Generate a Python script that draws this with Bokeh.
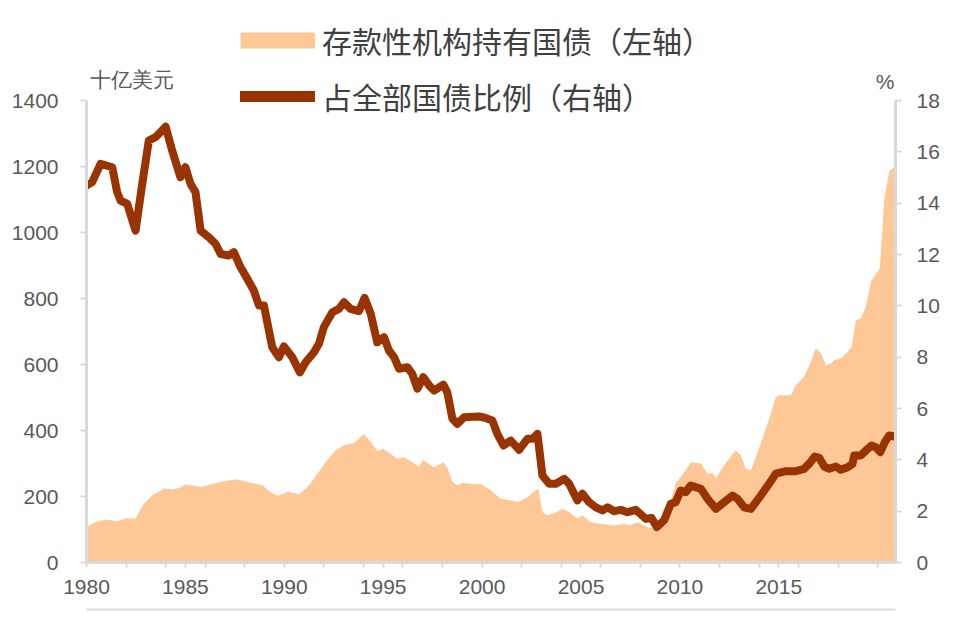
import numpy as np
from bokeh.plotting import figure
from bokeh.models import (Range1d, LinearAxis, FixedTicker, Legend, LegendItem,
                          ColumnDataSource, Label)
from bokeh.embed import file_html
from bokeh.resources import INLINE

# ---- data ----
area_year = [1980.0, 1980.46, 1980.96, 1981.55, 1981.97, 1982.48, 1982.9, 1983.32, 1983.91,
             1984.33, 1984.67, 1985.0, 1985.51, 1985.77, 1986.1, 1986.78, 1987.54, 1988.13,
             1988.89, 1989.31, 1989.65, 1989.98, 1990.23, 1990.74, 1991.25, 1991.67, 1992.09,
             1992.6, 1993.02, 1993.53, 1994.03, 1994.37, 1994.7, 1995.0, 1995.38, 1995.71,
             1996.08, 1996.47, 1996.8, 1997.03, 1997.57, 1998.04, 1998.24, 1998.5, 1998.75,
             1999.0, 1999.59, 1999.93, 2000.43, 2000.94, 2001.45, 2001.87, 2002.29, 2002.71,
             2002.85, 2003.05, 2003.3, 2003.8, 2004.06, 2004.4, 2004.82, 2005.07, 2005.49,
             2006.17, 2006.68, 2007.18, 2007.44, 2007.86, 2008.36, 2008.75, 2009.2, 2009.5,
             2009.8, 2010.04, 2010.3, 2010.55, 2011.06, 2011.4, 2011.65, 2011.82, 2012.16,
             2012.5, 2012.83, 2013.08, 2013.33, 2013.59, 2013.84, 2014.26, 2014.6, 2014.85,
             2015.1, 2015.61, 2015.86, 2016.28, 2016.62, 2016.87, 2017.13, 2017.38, 2017.63,
             2017.8, 2018.14, 2018.48, 2018.68, 2018.9, 2019.15, 2019.4, 2019.66, 2019.91,
             2020.11, 2020.33, 2020.58, 2020.85]
area_value = [107, 122, 130, 125, 133, 133, 178, 203, 224,
              221, 226, 236, 232, 229, 234, 244, 252, 244,
              234, 213, 203, 209, 215, 206, 234, 269, 304,
              340, 355, 362, 389, 365, 338, 345, 328, 315,
              318, 304, 291, 310, 289, 303, 289, 244, 234,
              241, 237, 238, 219, 193, 188, 183, 198, 219,
              222, 153, 143, 153, 163, 153, 133, 143, 122,
              115, 112, 117, 112, 122, 107, 103, 128, 180,
              240, 259, 280, 304, 300, 269, 271, 254, 289,
              315, 340, 325, 284, 279, 320, 391, 451, 502,
              507, 507, 537, 563, 608, 649, 634, 598, 603,
              613, 618, 638, 654, 735, 740, 775, 851, 876,
              892, 1099, 1185, 1199]

line_year = [1980.0, 1980.29, 1980.71, 1981.3, 1981.55, 1981.72, 1982.06, 1982.48, 1982.82,
             1983.15, 1983.49, 1984.0, 1984.33, 1984.75, 1985.0, 1985.26, 1985.51, 1985.77,
             1986.19, 1986.53, 1986.78, 1987.2, 1987.45, 1987.79, 1988.13, 1988.46, 1988.72,
             1988.97, 1989.39, 1989.73, 1989.98, 1990.4, 1990.79, 1991.08, 1991.5, 1991.75,
             1992.0, 1992.43, 1992.76, 1993.02, 1993.35, 1993.77, 1994.06, 1994.37, 1994.7,
             1995.04, 1995.29, 1995.55, 1995.8, 1996.22, 1996.47, 1996.73, 1997.03, 1997.32,
             1997.57, 1998.04, 1998.24, 1998.5, 1998.75, 1999.09, 1999.84, 2000.1, 2000.52,
             2000.77, 2001.08, 2001.45, 2001.87, 2002.29, 2002.55, 2002.8, 2003.05, 2003.39,
             2003.73, 2004.15, 2004.4, 2004.82, 2005.07, 2005.41, 2005.75, 2006.09, 2006.34,
             2006.68, 2007.01, 2007.35, 2007.77, 2008.28, 2008.56, 2008.83, 2009.2, 2009.54,
             2009.79, 2010.04, 2010.3, 2010.55, 2011.06, 2011.4, 2011.82, 2012.24, 2012.66,
             2012.91, 2013.25, 2013.59, 2014.09, 2014.51, 2014.85, 2015.36, 2015.86, 2016.28,
             2016.54, 2016.82, 2017.04, 2017.3, 2017.55, 2017.89, 2018.14, 2018.48, 2018.73,
             2018.81, 2019.15, 2019.4, 2019.69, 2019.9, 2020.13, 2020.36, 2020.58, 2020.83]
line_value = [14.69, 14.82, 15.53, 15.40, 14.43, 14.1, 13.97, 12.93, 14.76,
              16.44, 16.57, 16.98, 16.05, 15.01, 15.40, 14.75, 14.43, 12.93,
              12.67, 12.41, 12.02, 11.96, 12.09, 11.5, 11.05, 10.6, 10.01,
              10.01, 8.39, 8.0, 8.42, 8.0, 7.41, 7.8, 8.19, 8.52,
              9.17, 9.75, 9.88, 10.14, 9.88, 9.79, 10.31, 9.69, 8.58,
              8.78, 8.26, 8.0, 7.55, 7.61, 7.35, 6.77, 7.22, 6.9,
              6.7, 6.93, 6.63, 5.6, 5.4, 5.66, 5.69, 5.65, 5.53,
              5.01, 4.56, 4.75, 4.39, 4.82, 4.82, 5.01, 3.39, 3.07,
              3.07, 3.26, 3.07, 2.42, 2.68, 2.35, 2.15, 2.03, 2.15,
              2.0, 2.05, 1.96, 2.05, 1.7, 1.74, 1.38, 1.64, 2.29,
              2.35, 2.8, 2.74, 3.0, 2.87, 2.48, 2.09, 2.35, 2.61,
              2.48, 2.15, 2.09, 2.61, 3.07, 3.46, 3.56, 3.56, 3.65,
              3.85, 4.13, 4.08, 3.74, 3.65, 3.74, 3.61, 3.71, 3.85,
              4.17, 4.17, 4.36, 4.56, 4.49, 4.3, 4.69, 4.95, 4.91]

left_ticks = [0, 200, 400, 600, 800, 1000, 1200, 1400]
right_ticks = [0, 2, 4, 6, 8, 10, 12, 14, 16, 18]
x_ticks = sorted(set(range(1980, 2021, 2)) | set(range(1980, 2021, 5)))
x_labels = {t: (str(t) if (t % 5 == 0 and t < 2020) else "") for t in x_ticks}

area_name = "存款性机构持有国债（左轴）"
line_name = "占全部国债比例（右轴）"
left_unit = "十亿美元"
right_unit = "%"

AREA_COLOR = "#FDC796"
LINE_COLOR = "#993300"
AXIS_GREY = "#D9D9D9"
TEXT_GREY = "#595959"

# ---- layout (pixels) ----
W, H = 957, 626
FRAME_TOP = 0           # frame reaches the top so legend and captions are not clipped
AXIS_TOP = 100          # where the 1400 / 18 ticks sit
FRAME_BOTTOM = 562
BORDER_LEFT, BORDER_RIGHT = 86, 62
FRAME_W = W - BORDER_LEFT - BORDER_RIGHT
scale_up = (FRAME_BOTTOM - FRAME_TOP) / (FRAME_BOTTOM - AXIS_TOP)
left_max, right_max = 1400, 18

p = figure(width=W, height=H, output_backend="svg", toolbar_location=None,
           x_range=Range1d(1980, 2020.9), y_range=Range1d(0, left_max * scale_up),
           min_border_left=BORDER_LEFT, min_border_right=BORDER_RIGHT,
           min_border_top=FRAME_TOP, min_border_bottom=H - FRAME_BOTTOM)
p.title.visible = False
p.outline_line_color = None
p.grid.visible = False

p.extra_y_ranges = {"right": Range1d(0, right_max * scale_up)}

src_a = ColumnDataSource(dict(x=area_year, y=area_value))
src_l = ColumnDataSource(dict(x=line_year, y=line_value))

area = p.varea(x="x", y1=0, y2="y", source=src_a, fill_color=AREA_COLOR)
line = p.line(x="x", y="y", source=src_l, y_range_name="right", line_color=LINE_COLOR,
              line_width=8, line_join="round", line_cap="round")

# legend keys: renderers with one NaN point (draw nothing, only their look is used)
nan_src = ColumnDataSource(dict(x=np.array([np.nan]), y=np.array([np.nan])))
area_key = p.line(x="x", y="y", source=nan_src, line_color=AREA_COLOR, line_width=16,
                  line_cap="butt")
line_key = p.line(x="x", y="y", source=nan_src, line_color=LINE_COLOR, line_width=11,
                  line_cap="round")

def style_axis(ax, standoff):
    ax.axis_line_color = AXIS_GREY
    ax.axis_line_width = 3
    ax.major_tick_line_color = AXIS_GREY
    ax.major_tick_line_width = 2
    ax.major_tick_out = 6
    ax.major_tick_in = 0
    ax.minor_tick_line_color = None
    ax.major_label_text_font = "Liberation Sans"
    ax.major_label_text_font_size = "21px"
    ax.major_label_text_color = TEXT_GREY
    ax.major_label_standoff = standoff

ya = p.yaxis[0]
ya.ticker = FixedTicker(ticks=left_ticks)
ya.bounds = (0, left_max)
style_axis(ya, 22)

xa = p.xaxis[0]
xa.ticker = FixedTicker(ticks=x_ticks)
xa.major_label_overrides = x_labels
style_axis(xa, 12)
xa.major_tick_out = 5
xa.axis_label = "\u00a0"
xa.axis_label_text_font_size = "1px"
xa.axis_label_standoff = 9

ra = LinearAxis(y_range_name="right", ticker=FixedTicker(ticks=right_ticks),
                bounds=(0, right_max))
style_axis(ra, 15)
p.add_layout(ra, "right")

# extra rule under the year labels
xb = LinearAxis(ticker=FixedTicker(ticks=[]))
xb.axis_line_color = AXIS_GREY
xb.axis_line_width = 2
xb.major_tick_out = 0
xb.major_tick_in = 0
xb.minor_tick_line_color = None
xb.major_label_text_font_size = "0px"
p.add_layout(xb, "below")

# unit captions (kept inside the frame)
p.add_layout(Label(x=3, y=FRAME_BOTTOM - 79, x_units="screen", y_units="screen",
                   text=left_unit, text_font="Liberation Sans", text_font_size="21px",
                   text_color=TEXT_GREY, text_baseline="middle", text_align="left"))
p.add_layout(Label(x=FRAME_W - 1, y=FRAME_BOTTOM - 81, x_units="screen", y_units="screen",
                   text=right_unit, text_font="Liberation Sans", text_font_size="21px",
                   text_color=TEXT_GREY, text_baseline="middle", text_align="right"))

# main legend (inside the tall frame)
legend = Legend(items=[LegendItem(label=area_name, renderers=[area_key]),
                       LegendItem(label=line_name, renderers=[line_key])],
                location=(154, 444))
legend.label_text_font = "Noto Sans CJK SC"
legend.label_text_font_size = "30px"
legend.label_text_color = "#404040"
legend.glyph_width = 75
legend.glyph_height = 44
legend.label_standoff = 7
legend.spacing = 12
legend.padding = 0
legend.margin = 0
legend.border_line_color = None
legend.background_fill_alpha = 0
p.add_layout(legend)

open("out.html", "w").write(file_html(p, INLINE))
